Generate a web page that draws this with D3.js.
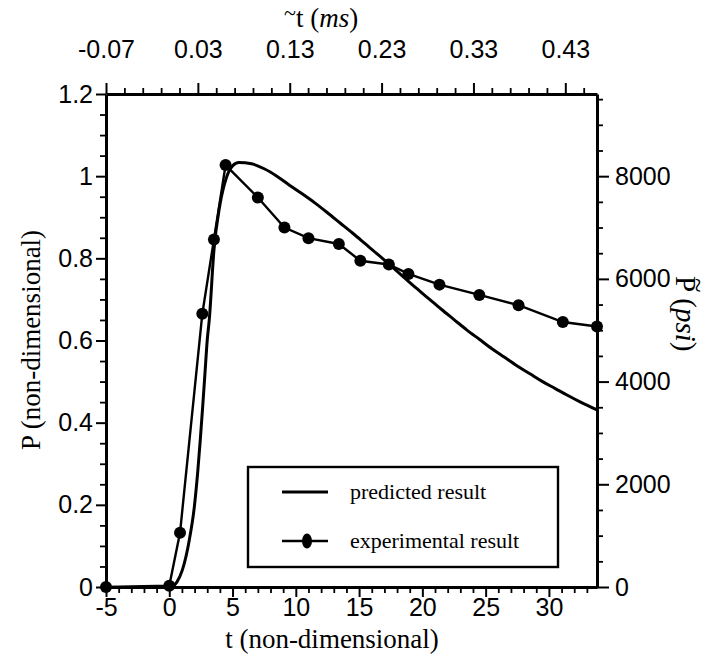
<!DOCTYPE html>
<html>
<head>
<meta charset="utf-8">
<script src="https://cdn.jsdelivr.net/npm/d3@7"></script>
<style>
  body { margin: 0; background: #fff; }
  .tick text { font-family: "Liberation Sans", Arial, sans-serif; font-size: 25px; fill: #000; }
  .domain, .tick line { stroke: #000; }
  .lbl { font-family: "Liberation Serif", "Times New Roman", serif; font-size: 27px; fill: #000; }
  .leg { font-family: "Liberation Serif", "Times New Roman", serif; font-size: 22px; fill: #000; }
</style>
</head>
<body>
<div id="chart"></div>
<script>
// predicted result (non-dimensional t, P)
var predT = [0.2, 0.6, 1.03, 1.58, 1.98, 2.24, 2.45, 2.64, 2.82, 3.0, 3.16, 3.53, 4.0, 4.5, 5.0, 5.5, 6.5, 7.5, 8.5, 9.5, 10.5, 11.5, 12.5, 13.5, 14.5, 15.5, 16.5, 17.5, 18.5, 19.5, 20.5, 21.5, 22.5, 23.5, 24.5, 25.5, 26.5, 27.5, 28.5, 29.5, 30.5, 31.5, 32.5, 33.8];
var predP = [0, 0.012, 0.041, 0.114, 0.195, 0.277, 0.358, 0.439, 0.52, 0.601, 0.65, 0.82, 0.93, 0.995, 1.025, 1.033, 1.03, 1.018, 1.0, 0.978, 0.957, 0.935, 0.911, 0.886, 0.861, 0.835, 0.809, 0.782, 0.755, 0.728, 0.702, 0.676, 0.651, 0.626, 0.603, 0.58, 0.559, 0.538, 0.519, 0.5, 0.483, 0.466, 0.45, 0.431];

// experimental result
var expT = [-5, 0, 0.85, 2.61, 3.53, 4.45, 7.0, 9.1, 11.0, 13.4, 15.1, 17.35, 18.9, 21.35, 24.5, 27.6, 31.1, 33.8];
var expP = [0, 0.003, 0.132, 0.665, 0.846, 1.027, 0.948, 0.875, 0.849, 0.835, 0.794, 0.785, 0.762, 0.736, 0.711, 0.686, 0.645, 0.634];

// axis ticks
var tTicks = [-5, 0, 5, 10, 15, 20, 25, 30];
var pTicks = [0, 0.2, 0.4, 0.6, 0.8, 1, 1.2];
var msTicks = [-0.07, 0.03, 0.13, 0.23, 0.33, 0.43];
var psiTicks = [0, 2000, 4000, 6000, 8000];

(function() {
  var W = 715, H = 665;
  var pl = 106, pr = 597, pt = 94, pb = 587;

  var svg = d3.select("#chart").append("svg").attr("width", W).attr("height", H);

  var xx = d3.scaleLinear().domain([-5, 33.8]).range([pl, pr]);
  var yy = d3.scaleLinear().domain([0, 1.2]).range([pb, pt]);
  var xms = d3.scaleLinear().domain([-0.07, 0.4645]).range([pl, pr]);
  var ypsi = d3.scaleLinear().domain([0, 9600]).range([pb, pt]);

  var notMajor = function(list) {
    return function(v) {
      return !list.some(function(m) { return Math.abs(m - v) < 1e-6; });
    };
  };
  var minorT = d3.range(-5, 34, 1).filter(notMajor(tTicks));
  var minorP = d3.range(0, 1.2001, 0.05).filter(notMajor(pTicks));
  var minorMs = d3.range(-0.07, 0.465, 0.02).filter(notMajor(msTicks));
  var minorPsi = d3.range(0, 9600, 500).filter(notMajor(psiTicks));

  function drawAxis(axisFn, scale, major, minor, fmt, transform, size, pad) {
    var g = svg.append("g").attr("transform", transform);
    g.append("g").call(axisFn(scale).tickValues(minor).tickSize(6).tickFormat(""))
      .call(function(s) { s.select(".domain").remove(); })
      .selectAll("line").attr("stroke-width", 1.8);
    var a = g.append("g").call(axisFn(scale).tickValues(major).tickSize(size).tickSizeOuter(0).tickPadding(pad).tickFormat(fmt));
    a.select(".domain").attr("stroke-width", 3);
    a.selectAll(".tick line").attr("stroke-width", 2);
    return a;
  }

  var fmtP = function(d) { return String(+d.toFixed(1)); };
  var fmtMs = function(d) { return d.toFixed(2); };

  drawAxis(d3.axisBottom, xx, tTicks, minorT, function(d) { return d; }, "translate(0," + pb + ")", 10, 1);
  drawAxis(d3.axisLeft, yy, pTicks, minorP, fmtP, "translate(" + pl + ",0)", 10, 3);
  drawAxis(d3.axisTop, xms, msTicks, minorMs, fmtMs, "translate(0," + pt + ")", 11, 25);
  drawAxis(d3.axisRight, ypsi, psiTicks, minorPsi, function(d) { return d; }, "translate(" + pr + ",0)", 12, 6);

  // predicted curve
  var predLine = d3.line().x(function(d, i) { return xx(predT[i]); }).y(function(d, i) { return yy(predP[i]); }).curve(d3.curveMonotoneX);
  svg.append("path").datum(predT).attr("d", predLine)
    .attr("fill", "none").attr("stroke", "#000").attr("stroke-width", 3);

  // experimental curve
  var expLine = d3.line().x(function(d, i) { return xx(expT[i]); }).y(function(d, i) { return yy(expP[i]); });
  svg.append("path").datum(expT).attr("d", expLine)
    .attr("fill", "none").attr("stroke", "#000").attr("stroke-width", 2.4);
  svg.append("g").selectAll("circle").data(expT).enter().append("circle")
    .attr("cx", function(d) { return xx(d); })
    .attr("cy", function(d, i) { return yy(expP[i]); })
    .attr("r", 6).attr("fill", "#000");

  // legend
  var leg = svg.append("g");
  leg.append("rect").attr("x", 248).attr("y", 467).attr("width", 310).attr("height", 100)
    .attr("fill", "#fff").attr("stroke", "#000").attr("stroke-width", 2.4);
  leg.append("line").attr("x1", 282).attr("x2", 328).attr("y1", 492).attr("y2", 492)
    .attr("stroke", "#000").attr("stroke-width", 3);
  leg.append("text").attr("class", "leg").attr("x", 350).attr("y", 499).text("predicted result");
  leg.append("line").attr("x1", 282).attr("x2", 328).attr("y1", 541).attr("y2", 541)
    .attr("stroke", "#000").attr("stroke-width", 2.4);
  leg.append("ellipse").attr("cx", 307).attr("cy", 541).attr("rx", 5).attr("ry", 7.5).attr("fill", "#000");
  leg.append("text").attr("class", "leg").attr("x", 350).attr("y", 548).text("experimental result");

  // axis titles
  svg.append("text").attr("class", "lbl").attr("x", 332).attr("y", 648).attr("text-anchor", "middle")
    .text("t (non-dimensional)");

  svg.append("text").attr("class", "lbl").attr("text-anchor", "middle")
    .attr("transform", "translate(40,340)rotate(-90)")
    .text("P (non-dimensional)");

  var topT = svg.append("text").attr("class", "lbl").attr("x", 296).attr("y", 27);
  topT.append("tspan").text("t ");
  topT.append("tspan").text("(");
  topT.append("tspan").attr("font-style", "italic").text("ms");
  topT.append("tspan").text(")");
  svg.append("text").attr("class", "lbl").attr("x", 284).attr("y", 20).style("font-size", "22px").text("~");

  var rt = svg.append("g").attr("transform", "translate(676,276)rotate(90)");
  var rText = rt.append("text").attr("class", "lbl").attr("x", 0).attr("y", 0).style("font-size", "29px");
  rText.append("tspan").text("P ");
  rText.append("tspan").text("(");
  rText.append("tspan").attr("font-style", "italic").text("psi");
  rText.append("tspan").text(")");
  rt.append("text").attr("class", "lbl").attr("x", 2).attr("y", -13).text("~");
})();
</script>
</body>
</html>
